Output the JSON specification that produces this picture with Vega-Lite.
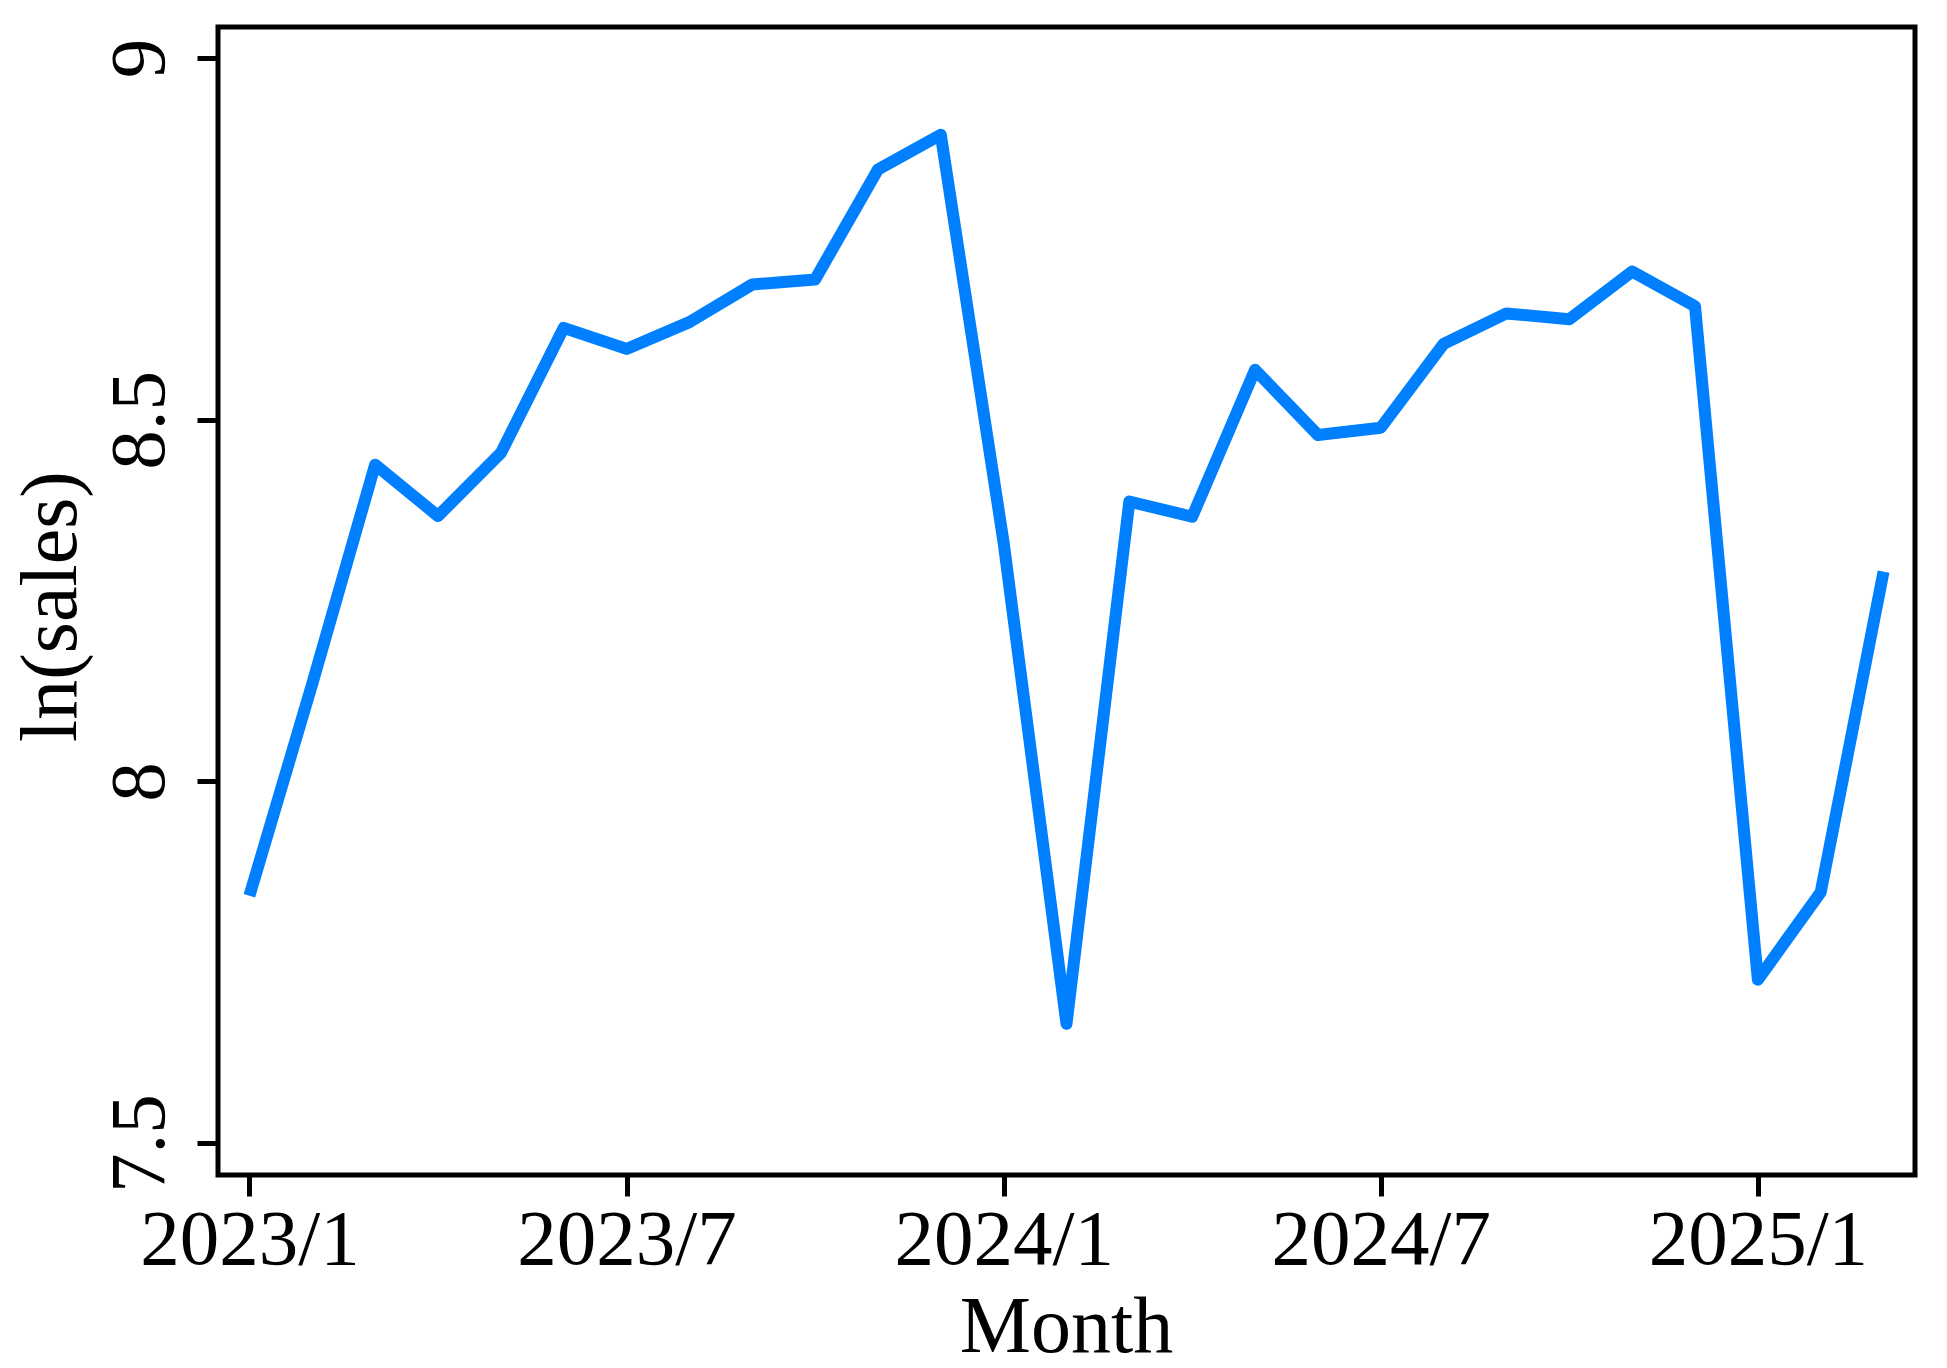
{
  "$schema": "https://vega.github.io/schema/vega-lite/v6.json",
  "width": 1697,
  "height": 1148,
  "autosize": {"type": "none"},
  "padding": {"left": 218, "top": 27, "right": 32, "bottom": 193},
  "background": "white",
  "config": {
    "view": {"stroke": "black", "strokeWidth": 5},
    "axis": {
      "domain": false,
      "grid": false,
      "tickColor": "black",
      "tickWidth": 5,
      "tickSize": 21,
      "labelFont": "Liberation Serif",
      "labelFontSize": 79,
      "labelColor": "black",
      "labelLimit": 0,
      "labelOverlap": false,
      "titleFont": "Liberation Serif",
      "titleFontSize": 80,
      "titleFontWeight": "normal",
      "titleColor": "black",
      "titleLimit": 0
    }
  },
  "data": {
    "values": [
      {"month": "2023/1", "ln_sales": 7.842},
      {"month": "2023/2", "ln_sales": 8.135},
      {"month": "2023/3", "ln_sales": 8.438},
      {"month": "2023/4", "ln_sales": 8.367},
      {"month": "2023/5", "ln_sales": 8.454},
      {"month": "2023/6", "ln_sales": 8.627},
      {"month": "2023/7", "ln_sales": 8.598},
      {"month": "2023/8", "ln_sales": 8.635},
      {"month": "2023/9", "ln_sales": 8.687},
      {"month": "2023/10", "ln_sales": 8.694},
      {"month": "2023/11", "ln_sales": 8.846},
      {"month": "2023/12", "ln_sales": 8.894},
      {"month": "2024/1", "ln_sales": 8.330},
      {"month": "2024/2", "ln_sales": 7.665},
      {"month": "2024/3", "ln_sales": 8.387},
      {"month": "2024/4", "ln_sales": 8.366},
      {"month": "2024/5", "ln_sales": 8.569},
      {"month": "2024/6", "ln_sales": 8.479},
      {"month": "2024/7", "ln_sales": 8.489},
      {"month": "2024/8", "ln_sales": 8.605},
      {"month": "2024/9", "ln_sales": 8.647},
      {"month": "2024/10", "ln_sales": 8.639},
      {"month": "2024/11", "ln_sales": 8.705},
      {"month": "2024/12", "ln_sales": 8.657},
      {"month": "2025/1", "ln_sales": 7.726},
      {"month": "2025/2", "ln_sales": 7.847},
      {"month": "2025/3", "ln_sales": 8.290}
    ]
  },
  "mark": {"type": "line", "color": "#0080ff", "strokeWidth": 12, "strokeJoin": "round", "strokeCap": "butt"},
  "encoding": {
    "x": {
      "field": "month",
      "type": "ordinal",
      "sort": null,
      "scale": {"type": "point", "padding": 0.5},
      "axis": {
        "title": "Month",
        "values": ["2023/1", "2023/7", "2024/1", "2024/7", "2025/1"],
        "labelAngle": 0,
        "labelAlign": "center",
        "labelBaseline": "alphabetic",
        "labelPadding": 67,
        "titleBaseline": "alphabetic",
        "titleAlign": "center",
        "titleX": 848,
        "titleY": 176
      }
    },
    "y": {
      "field": "ln_sales",
      "type": "quantitative",
      "scale": {"domain": [7.456, 9.043], "nice": false, "zero": false},
      "axis": {
        "title": "ln(sales)",
        "values": [7.5, 8, 8.5, 9],
        "format": "~g",
        "labelAngle": 270,
        "labelAlign": "center",
        "labelBaseline": "alphabetic",
        "labelPadding": 34,
        "titleAngle": 270,
        "titleAlign": "center",
        "titleBaseline": "alphabetic",
        "titleX": -143,
        "titleY": 579
      }
    }
  }
}
